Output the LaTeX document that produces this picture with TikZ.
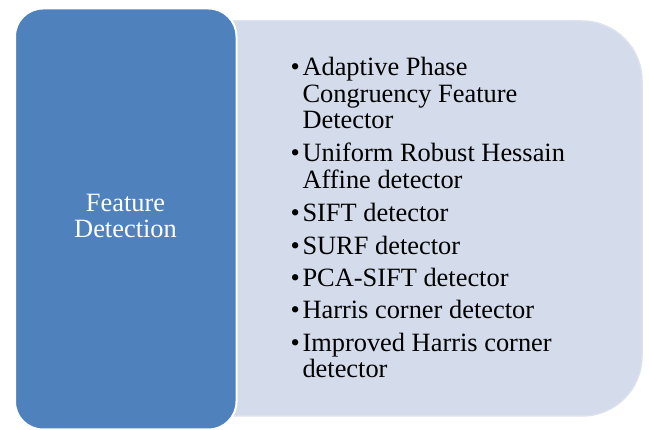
\documentclass[tikz,border=0pt]{standalone}
\usepackage{fontspec}
\setmainfont{Liberation Serif}
\definecolor{panelblue}{HTML}{4F81BD}
\definecolor{listfill}{HTML}{D4DBEA}
\definecolor{listedge}{HTML}{DCE1EE}
\tikzset{
  linetext/.style={anchor=base west, inner sep=0pt, outer sep=0pt,
    font=\fontsize{26.4}{26.5}\selectfont, text=black},
  dotmark/.style={linetext},
  titletext/.style={anchor=base, inner sep=0pt, outer sep=0pt,
    font=\fontsize{26.4}{26.5}\selectfont, text=white},
}
\begin{document}
\begin{tikzpicture}[x=1pt,y=-1pt]
\useasboundingbox (0,0) rectangle (649,430);

% list panel: square left side (hidden under the title box), rounded right side
\path[fill=listfill, draw=listedge, line width=1.5]
  (225,21) -- (582,21) arc[start angle=-90, end angle=0, radius=60]
  -- (642,356) arc[start angle=0, end angle=90, radius=60]
  -- (225,416) -- cycle;

% title box
\path[fill=panelblue, draw=white, line width=2, rounded corners=28]
  (15,8.5) rectangle (236.5,429.5);

\node[titletext] (t1) at (125.5,212) {Feature};
\node[titletext] (t2) at (125.5,238) {Detection};

% bullet list
\def\bx{290.5}
\def\tx{302.5}
\node[dotmark] (b1) at (\bx,76) {•};
\node[linetext] (l1a) at (\tx,76) {Adaptive Phase};
\node[linetext] (l1b) at (\tx,102.5) {Congruency Feature};
\node[linetext] (l1c) at (\tx,129) {Detector};

\node[dotmark] (b2) at (\bx,162) {•};
\node[linetext] (l2a) at (\tx,162) {Uniform Robust Hessain};
\node[linetext] (l2b) at (\tx,188.5) {Affine detector};

\node[dotmark] (b3) at (\bx,221.5) {•};
\node[linetext] (l3) at (\tx,221.5) {SIFT detector};

\node[dotmark] (b4) at (\bx,254.5) {•};
\node[linetext] (l4) at (\tx,254.5) {SURF detector};

\node[dotmark] (b5) at (\bx,287) {•};
\node[linetext] (l5) at (\tx,287) {PCA-SIFT detector};

\node[dotmark] (b6) at (\bx,319) {•};
\node[linetext] (l6) at (\tx,319) {Harris corner detector};

\node[dotmark] (b7) at (\bx,352) {•};
\node[linetext] (l7a) at (\tx,352) {Improved Harris corner};
\node[linetext] (l7b) at (\tx,378) {detector};
\end{tikzpicture}
\end{document}
